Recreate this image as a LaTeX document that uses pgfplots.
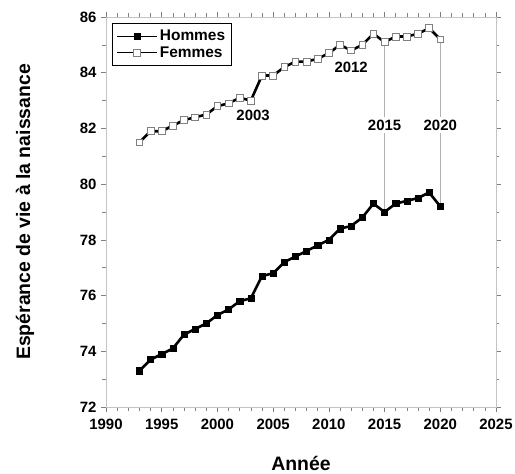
\documentclass[border=0pt]{standalone}
\usepackage{pgfplots}
\pgfplotsset{compat=1.18}
\usepackage{fontspec}
\setmainfont{Liberation Sans}
\definecolor{framegray}{HTML}{C4C4C4}
\definecolor{annotgray}{HTML}{B0B0B0}
\begin{document}
\begin{tikzpicture}
\useasboundingbox (-106bp,-67bp) rectangle (409bp,407bp);
\begin{axis}[
  at={(0,0)}, anchor=south west,
  scale only axis, width=390bp, height=390bp,
  xmin=1990, xmax=2025, ymin=72, ymax=86,
  xtick={1990,1995,...,2025}, ytick={72,74,...,86},
  minor xtick={1990,...,2025}, minor ytick={73,75,...,85},
  axis line style={framegray, line width=0.9pt},
  tick style={gray, line width=0.6pt},
  major tick length=5bp, minor tick length=3.5bp,
  tick align=outside,
  /pgf/number format/assume math mode=true,
  /pgf/number format/1000 sep={},
  tick label style={font=\bfseries\fontsize{15}{18}\selectfont, text=black},
  xticklabel style={yshift=-4bp},
  yticklabel style={xshift=-1bp},
  xlabel={Année}, ylabel={Espérance de vie à la naissance},
  label style={font=\bfseries\fontsize{19.5}{23}\selectfont},
  xlabel style={at={(axis description cs:0.5,0)}, anchor=center, yshift=-56bp},
  ylabel style={at={(axis description cs:0,0.5)}, anchor=center, yshift=81bp},
  legend style={at={(axis description cs:0.015,0.985)}, anchor=north west,
    draw=black, line width=1pt, font=\bfseries\fontsize{15.5}{18}\selectfont,
    inner xsep=4bp, inner ysep=5bp, row sep=0bp},
  legend cell align=left,
  legend image code/.code={\draw[#1, line width=1.6pt] (0bp,0bp) -- (40bp,0bp); \draw[#1, only marks] plot coordinates {(20bp,0bp)};},
  clip=false,
]
\addplot[annotgray, line width=0.8pt, forget plot] coordinates {(2015,85.1) (2015,79.0)};
\addplot[annotgray, line width=0.8pt, forget plot] coordinates {(2020,85.2) (2020,79.2)};
\addplot[black, line width=2.6pt, mark=square*, mark size=3.1bp, mark options={fill=black, line width=0.5pt, solid}] coordinates {
(1993,73.3) (1994,73.7) (1995,73.9) (1996,74.1) (1997,74.6) (1998,74.8) (1999,75.0) (2000,75.3) (2001,75.5) (2002,75.8) (2003,75.9)
(2004,76.7) (2005,76.8) (2006,77.2) (2007,77.4) (2008,77.6) (2009,77.8) (2010,78.0) (2011,78.4) (2012,78.5) (2013,78.8) (2014,79.3)
(2015,79.0) (2016,79.3) (2017,79.4) (2018,79.5) (2019,79.7) (2020,79.2)};
\addlegendentry{Hommes}
\addplot[black, line width=2.6pt, mark=square*, mark size=3.4bp, mark options={fill=white, draw=gray, line width=0.7pt, solid}] coordinates {
(1993,81.5) (1994,81.9) (1995,81.9) (1996,82.1) (1997,82.3) (1998,82.4) (1999,82.5) (2000,82.8) (2001,82.9) (2002,83.1) (2003,83.0)
(2004,83.9) (2005,83.9) (2006,84.2) (2007,84.4) (2008,84.4) (2009,84.5) (2010,84.7) (2011,85.0) (2012,84.8) (2013,85.0) (2014,85.4)
(2015,85.1) (2016,85.3) (2017,85.3) (2018,85.4) (2019,85.6) (2020,85.2)};
\addlegendentry{Femmes}
\node[font=\bfseries\fontsize{15}{18}\selectfont, fill=white, inner sep=3bp] at (axis cs:2015,82.12) {2015};
\node[font=\bfseries\fontsize{15}{18}\selectfont, fill=white, inner sep=3bp] at (axis cs:2020,82.12) {2020};
\node[font=\bfseries\fontsize{15}{18}\selectfont] at (axis cs:2003.2,82.48) {2003};
\node[font=\bfseries\fontsize{15}{18}\selectfont] at (axis cs:2012,84.21) {2012};
\end{axis}
\end{tikzpicture}
\end{document}
